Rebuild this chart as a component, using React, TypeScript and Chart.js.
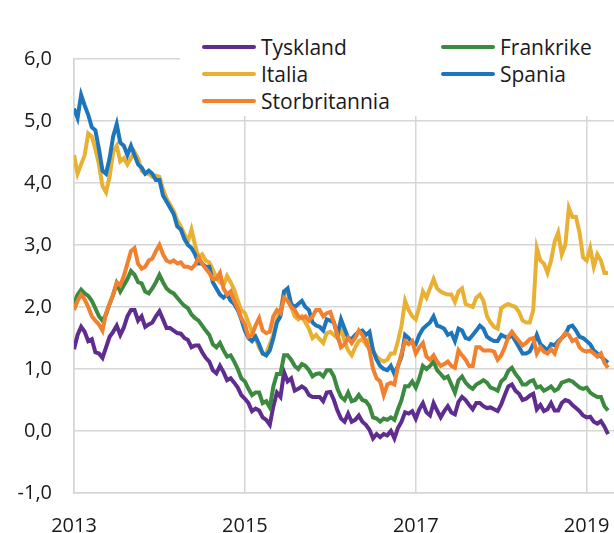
import React, { useEffect, useRef } from "react";
import { Chart, registerables } from "chart.js";
Chart.register(...registerables);

// Half-monthly observations, starting January 2013
const startYear = 2013;
const stepsPerYear = 24;
const xTickYears = [2013, 2015, 2017, 2019];
const yMin = -1;
const yMax = 6;

const tyskland = [
  1.32, 1.55, 1.68, 1.6, 1.45, 1.48, 1.27, 1.25, 1.18, 1.35, 1.52, 1.6, 1.7, 1.55, 1.67, 1.85, 1.95, 1.95, 1.78, 1.85, 1.68, 1.72, 1.75, 1.85,
  1.93, 1.8, 1.66, 1.66, 1.62, 1.58, 1.57, 1.5, 1.47, 1.35, 1.38, 1.38, 1.27, 1.18, 1.12, 0.98, 0.93, 1.05, 0.95, 0.82, 0.85, 0.78, 0.7, 0.58,
  0.52, 0.45, 0.32, 0.36, 0.33, 0.22, 0.18, 0.1, 0.4, 0.62, 0.55, 0.95, 0.8, 0.85, 0.65, 0.68, 0.72, 0.68, 0.58, 0.55, 0.55, 0.55, 0.48, 0.62,
  0.63, 0.5, 0.33, 0.2, 0.15, 0.28, 0.15, 0.18, 0.25, 0.15, 0.1, 0.02, -0.12, -0.05, -0.1, -0.05, -0.07, 0.0, -0.12, 0.05, 0.15, 0.3, 0.28, 0.32,
  0.2, 0.35, 0.45, 0.3, 0.25, 0.45, 0.33, 0.22, 0.32, 0.4, 0.3, 0.27, 0.47, 0.55, 0.5, 0.42, 0.35, 0.45, 0.45, 0.4, 0.37, 0.38, 0.35, 0.32,
  0.43, 0.58, 0.72, 0.75, 0.65, 0.6, 0.5, 0.52, 0.57, 0.6, 0.35, 0.42, 0.32, 0.35, 0.45, 0.33, 0.33, 0.45, 0.5, 0.48, 0.42, 0.37, 0.32, 0.25,
  0.22, 0.23, 0.15, 0.12, 0.16, 0.07, -0.05,
];

const frankrike = [
  2.05, 2.2, 2.28, 2.22, 2.18, 2.1, 1.98, 1.85, 1.78, 1.88, 2.05, 2.2, 2.38, 2.25, 2.35, 2.45, 2.58, 2.52, 2.4, 2.38, 2.25, 2.22, 2.3, 2.4,
  2.52, 2.4, 2.3, 2.25, 2.22, 2.15, 2.08, 2.02, 1.98, 1.88, 1.82, 1.78, 1.7, 1.62, 1.55, 1.4, 1.35, 1.42, 1.3, 1.2, 1.22, 1.12, 1.0, 0.85,
  0.8, 0.68, 0.58, 0.62, 0.62, 0.45, 0.48, 0.38, 0.72, 0.92, 0.92, 1.22, 1.22, 1.15, 1.05, 1.0, 1.08, 1.05, 0.98, 0.88, 0.92, 0.93, 0.88, 0.98,
  0.98, 0.88, 0.68, 0.55, 0.5, 0.62, 0.48, 0.5, 0.58, 0.5, 0.48, 0.4, 0.22, 0.2, 0.15, 0.2, 0.18, 0.22, 0.18, 0.35, 0.5, 0.72, 0.72, 0.8,
  0.7, 0.85, 1.05, 1.0, 1.05, 1.12, 0.98, 0.92, 0.85, 0.88, 0.75, 0.62, 0.82, 0.88, 0.78, 0.72, 0.68, 0.75, 0.78, 0.82, 0.78, 0.7, 0.68, 0.65,
  0.8, 0.85, 0.97, 1.02, 0.92, 0.85, 0.75, 0.75, 0.8, 0.82, 0.7, 0.72, 0.65, 0.68, 0.72, 0.65, 0.68, 0.78, 0.8, 0.82, 0.8, 0.75, 0.7, 0.68,
  0.7, 0.62, 0.58, 0.55, 0.55, 0.4, 0.33,
];

const italia = [
  4.45, 4.15, 4.3, 4.45, 4.8, 4.75, 4.55, 4.3, 3.95, 3.85, 4.1, 4.5, 4.6, 4.35, 4.4, 4.3, 4.4, 4.5, 4.4, 4.2, 4.15, 4.15, 4.1, 4.12,
  4.1, 3.9, 3.75, 3.65, 3.55, 3.4, 3.3, 3.18, 3.05, 3.25, 3.0, 2.8, 2.85, 2.75, 2.72, 2.6, 2.48, 2.4, 2.35, 2.5, 2.4, 2.28, 2.1, 1.95,
  1.9, 1.75, 1.6, 1.5, 1.35, 1.25, 1.25, 1.4, 1.55, 1.8, 1.95, 2.25, 2.25, 2.0, 1.85, 1.8, 1.85, 1.75, 1.65, 1.5, 1.55, 1.48, 1.42, 1.58,
  1.6, 1.55, 1.5, 1.65, 1.45, 1.3, 1.22, 1.35, 1.45, 1.48, 1.4, 1.5, 1.3, 1.2, 1.15, 1.12, 1.15, 1.25, 1.25, 1.45, 1.7, 2.1, 1.95, 1.85,
  1.8, 2.0, 2.25, 2.15, 2.3, 2.45, 2.3, 2.25, 2.22, 2.2, 2.2, 2.08, 2.25, 2.3, 2.05, 2.02, 2.0, 2.15, 2.2, 2.1, 1.85, 1.75, 1.68, 1.65,
  1.98, 2.02, 2.05, 2.02, 2.0, 1.92, 1.78, 1.75, 1.75, 1.95, 2.95, 2.75, 2.7, 2.55, 2.75, 3.05, 3.2, 2.85, 3.0, 3.6, 3.45, 3.45, 3.2, 2.8,
  2.75, 2.95, 2.65, 2.85, 2.75, 2.55, 2.55,
];

const spania = [
  5.2, 5.05, 5.42, 5.25, 5.1, 4.9, 4.85, 4.55, 4.2, 4.15, 4.4, 4.75, 4.95, 4.65, 4.6, 4.45, 4.6, 4.45, 4.3, 4.25, 4.15, 4.2, 4.15, 4.05,
  4.05, 3.8, 3.7, 3.6, 3.5, 3.3, 3.25, 3.1, 3.0, 2.95, 2.85, 2.7, 2.7, 2.65, 2.65, 2.4, 2.3, 2.2, 2.15, 2.2, 2.1, 2.05, 1.95, 1.8,
  1.62, 1.5, 1.45, 1.52, 1.4, 1.25, 1.22, 1.3, 1.5, 1.75, 1.85, 2.25, 2.3, 2.05, 2.0, 2.05, 2.1, 2.0, 1.95, 1.75, 1.7, 1.68, 1.62, 1.8,
  1.78, 1.75, 1.55, 1.8, 1.65, 1.5, 1.48, 1.55, 1.6, 1.62, 1.55, 1.6, 1.3, 1.15, 1.05, 1.0, 0.98, 1.05, 0.92, 1.05, 1.2, 1.55, 1.5, 1.42,
  1.4, 1.55, 1.65, 1.7, 1.75, 1.85, 1.7, 1.68, 1.65, 1.55, 1.58, 1.45, 1.65, 1.62, 1.5, 1.48, 1.55, 1.62, 1.7, 1.65, 1.52, 1.48, 1.45, 1.45,
  1.55, 1.52, 1.5, 1.55, 1.45, 1.35, 1.25, 1.25, 1.28, 1.4, 1.55, 1.4, 1.35, 1.3, 1.4, 1.38, 1.45, 1.5, 1.55, 1.68, 1.7, 1.62, 1.52, 1.5,
  1.45, 1.4, 1.3, 1.25, 1.2, 1.15, 1.1,
];

const storbritannia = [
  1.95, 2.1, 2.2, 2.12, 2.0, 1.85, 1.78, 1.72, 1.62, 1.9, 2.05, 2.2, 2.4, 2.35, 2.5, 2.7, 2.9, 2.95, 2.7, 2.62, 2.65, 2.75, 2.78, 2.9,
  3.0, 2.85, 2.75, 2.72, 2.75, 2.7, 2.72, 2.65, 2.65, 2.62, 2.68, 2.8, 2.7, 2.62, 2.55, 2.45, 2.45, 2.55, 2.3, 2.2, 2.25, 2.1, 1.98, 1.82,
  1.72, 1.52, 1.55, 1.7, 1.82, 1.62, 1.58, 1.6, 1.85, 1.95, 1.9, 2.15, 2.1, 2.0, 1.95, 1.85, 1.82, 1.85, 1.78, 1.85, 1.95, 1.95, 1.85, 1.9,
  1.92, 1.75, 1.55, 1.35, 1.4, 1.5, 1.42, 1.5, 1.62, 1.55, 1.45, 1.3, 1.0, 0.85, 0.8, 0.58, 0.75, 0.78, 0.75, 1.05, 1.25, 1.45, 1.4, 1.45,
  1.25, 1.35, 1.42, 1.2, 1.15, 1.22, 1.12, 1.05, 1.08, 1.12, 1.05, 1.02, 1.3, 1.22, 1.15, 1.05, 1.05, 1.35, 1.35, 1.3, 1.3, 1.3, 1.28, 1.15,
  1.22, 1.35, 1.52, 1.6, 1.52, 1.45, 1.38, 1.42, 1.48, 1.5, 1.25, 1.35, 1.28, 1.25, 1.32, 1.25, 1.42, 1.5, 1.58, 1.55, 1.45, 1.48, 1.35, 1.3,
  1.28, 1.3, 1.25, 1.2, 1.25, 1.1, 1.02,
];

const seriesNames = ["Tyskland", "Frankrike", "Italia", "Spania", "Storbritannia"];
const seriesColors = ["#5f2c8f", "#3b8a3f", "#e9b134", "#1d75bc", "#f1802f"];
const seriesValues = [tyskland, frankrike, italia, spania, storbritannia];

const FONT = "'Open Sans', 'Noto Sans', sans-serif";

const toPoints = (vals: number[]) =>
  vals.map((v, i) => ({ x: startYear + i / stepsPerYear, y: v }));

function LegendItem({ name, color, left, top }: { name: string; color: string; left: number; top: number }) {
  return (
    <div style={{ position: "absolute", left, top: top - 14, height: 28, display: "flex", alignItems: "center" }}>
      <div style={{ width: 54, height: 4, background: color, borderRadius: 2, marginRight: 5 }} />
      <span style={{ fontFamily: FONT, fontSize: 21, color: "#1a1a1a", whiteSpace: "nowrap" }}>{name}</span>
    </div>
  );
}

export default function App() {
  const ref = useRef<HTMLCanvasElement | null>(null);

  useEffect(() => {
    if (!ref.current) return;
    // draw order: last legend entry on top
    const order = [4, 3, 2, 1, 0];
    const chart = new Chart(ref.current, {
      type: "line",
      data: {
        datasets: order.map((k) => ({
          label: seriesNames[k],
          data: toPoints(seriesValues[k]),
          borderColor: seriesColors[k],
          backgroundColor: seriesColors[k],
          borderWidth: 4,
          pointRadius: 0,
          tension: 0,
          fill: false,
        })),
      },
      options: {
        animation: false,
        responsive: false,
        devicePixelRatio: 1,
        layout: { padding: { top: 59, right: 0, left: 0, bottom: 0 } },
        plugins: { legend: { display: false }, tooltip: { enabled: false }, title: { display: false } },
        scales: {
          x: {
            type: "linear",
            min: startYear,
            max: 2019.32,
            afterFit: (s: any) => {
              s.height = 40;
              s.paddingLeft = 0;
              s.paddingRight = 0;
            },
            afterBuildTicks: (s: any) => {
              s.ticks = xTickYears.map((v) => ({ value: v }));
            },
            ticks: {
              callback: (v: any) => String(v),
              font: { family: FONT, size: 20 },
              color: "#1a1a1a",
              padding: 21,
              maxRotation: 0,
            },
            grid: { color: "#d6d6d6", lineWidth: 1.5, drawTicks: false },
            border: { color: "#d6d6d6", width: 1.5 },
          },
          y: {
            min: yMin,
            max: yMax,
            afterFit: (s: any) => {
              s.width = 74;
            },
            ticks: {
              stepSize: 1,
              callback: (v: any) => Number(v).toFixed(1).replace(".", ","),
              font: { family: FONT, size: 20 },
              color: "#1a1a1a",
              padding: 22,
            },
            grid: { color: "#d6d6d6", lineWidth: 1.5, drawTicks: false },
            border: { color: "#d6d6d6", width: 1.5 },
          },
        },
      },
    });
    return () => chart.destroy();
  }, []);

  return (
    <div style={{ position: "fixed", left: 0, top: 0, width: 614, height: 533, background: "#fff", overflow: "hidden" }}>
      <canvas ref={ref} width={614} height={533} style={{ position: "absolute", left: 0, top: 0, width: 614, height: 533 }} />
      <div style={{ position: "absolute", left: 180, top: 30, width: 434, height: 86, background: "#fff" }}>
        <LegendItem name={seriesNames[0]} color={seriesColors[0]} left={22} top={17} />
        <LegendItem name={seriesNames[1]} color={seriesColors[1]} left={261} top={17} />
        <LegendItem name={seriesNames[2]} color={seriesColors[2]} left={22} top={44} />
        <LegendItem name={seriesNames[3]} color={seriesColors[3]} left={261} top={44} />
        <LegendItem name={seriesNames[4]} color={seriesColors[4]} left={22} top={71} />
      </div>
    </div>
  );
}
